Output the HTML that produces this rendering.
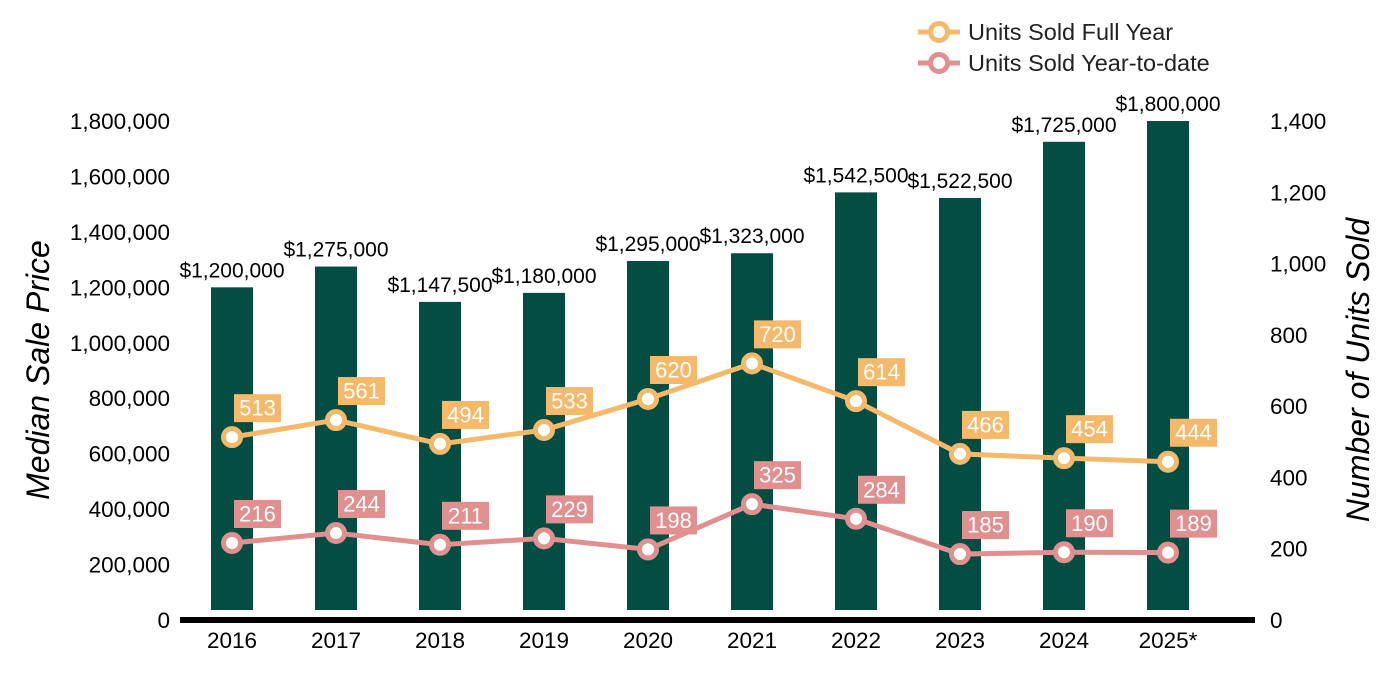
<!DOCTYPE html>
<html><head><meta charset="utf-8"><style>
body{margin:0;background:#fff;}
svg{display:block;font-family:"Liberation Sans",Arial,sans-serif;}
</style></head><body>
<svg id="c" width="1400" height="700"></svg>
<script>
const years=["2016","2017","2018","2019","2020","2021","2022","2023","2024","2025*"];
const prices=[1200000,1275000,1147500,1180000,1295000,1323000,1542500,1522500,1725000,1800000];
const fullYear=[513,561,494,533,620,720,614,466,454,444];
const ytd=[216,244,211,229,198,325,284,185,190,189];
const leftTicks=[0,200000,400000,600000,800000,1000000,1200000,1400000,1600000,1800000];
const rightTicks=[0,200,400,600,800,1000,1200,1400];
const NS="http://www.w3.org/2000/svg";
const svg=document.getElementById('c');
const y0=620, yTop=121;
const yL=v=>y0-v*(y0-yTop)/1800000;
const yR=v=>y0-v*(y0-yTop)/1400;
const xC=i=>232+i*104;
function el(t,a,txt){const e=document.createElementNS(NS,t);for(const k in a)e.setAttribute(k,a[k]);if(txt!==undefined)e.textContent=txt;svg.appendChild(e);return e;}
const fmt=v=>v.toLocaleString('en-US');
leftTicks.forEach(v=>{const t=el('text',{x:170,y:yL(v)+8,'text-anchor':'end','font-size':22.5,fill:'#000'},fmt(v));

});
rightTicks.forEach(v=>{const t=el('text',{x:1270,y:yR(v)+8,'font-size':22.5,fill:'#000'},fmt(v));

});
let t=el('text',{x:0,y:0,transform:'translate(49,370) rotate(-90)','text-anchor':'middle','font-size':32,'font-style':'italic'},'Median Sale Price');


t=el('text',{x:0,y:0,transform:'translate(1369,370) rotate(-90)','text-anchor':'middle','font-size':32,'font-style':'italic'},'Number of Units Sold');


prices.forEach((p,i)=>{const b=el('rect',{x:xC(i)-21,y:yL(p),width:42,height:610-yL(p),fill:'#034d43'});


const l=el('text',{x:xC(i),y:yL(p)-10,'text-anchor':'middle','font-size':21,fill:'#000'},'$'+fmt(p));

});
let ax=el('rect',{x:180,y:617,width:1075,height:6,fill:'#000'});


years.forEach((y,i)=>{const l=el('text',{x:xC(i),y:648,'text-anchor':'middle','font-size':22.5},y);

});
function series(vals,color,name){
  const pl=el('polyline',{points:vals.map((v,i)=>xC(i)+','+yR(v)).join(' '),fill:'none',stroke:color,'stroke-width':5});
  
  
  vals.forEach((v,i)=>{const x=xC(i),y=yR(v);
    const c=el('circle',{cx:x,cy:y,r:8.5,fill:'#fff',stroke:color,'stroke-width':5});
    
    
    const r=el('rect',{x:x+2,y:y-43,width:47,height:28,fill:color});
    
    
    const tx=el('text',{x:x+25.5,y:y-21.5,'text-anchor':'middle','font-size':22,fill:'#fff'},String(v));
    
    });
}
series(fullYear,'#f5b96b','full-year');
series(ytd,'#e0908f','ytd');
[['Units Sold Full Year','#f5b96b',32],['Units Sold Year-to-date','#e0908f',63]].forEach(([n,c,y])=>{
  const l=el('line',{x1:918,y1:y,x2:960,y2:y,stroke:c,'stroke-width':5});
  
  
  const ci=el('circle',{cx:939,cy:y,r:8.5,fill:'#fff',stroke:c,'stroke-width':5});
  
  
  const tx=el('text',{x:968,y:y+8,'font-size':23.5,fill:'#222'},n);
  
  
});
</script>
</body></html>
